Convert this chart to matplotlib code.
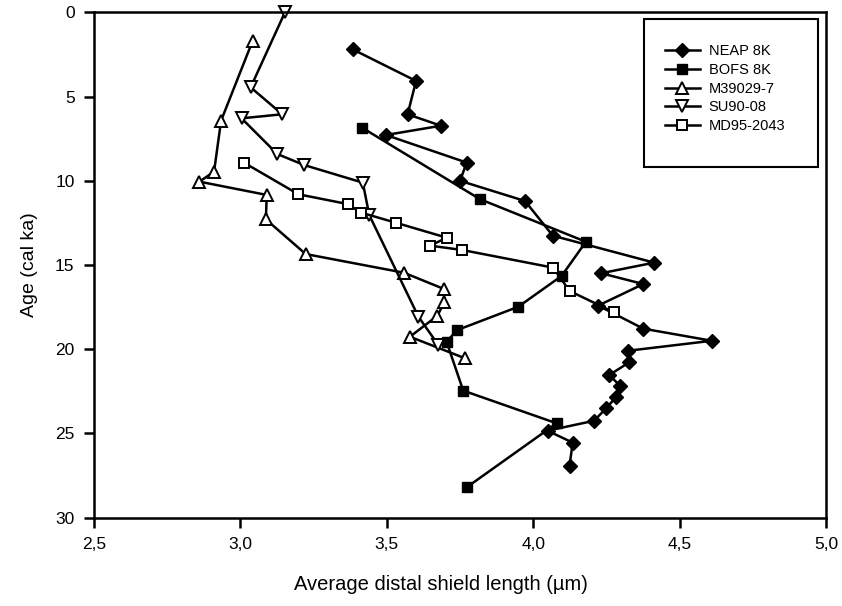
import matplotlib
matplotlib.use("Agg")
import matplotlib.pyplot as plt
from matplotlib.ticker import FuncFormatter, MultipleLocator
from matplotlib.patches import Rectangle

plt.rcParams['font.family'] = ['Liberation Sans', 'DejaVu Sans']

# ---- data (x = average distal shield length, y = age in cal ka) ----
neap_x = [3.383, 3.600, 3.571, 3.685, 3.497, 3.773, 3.750, 3.972, 4.067, 4.413,
          4.232, 4.376, 4.222, 4.376, 4.610, 4.325, 4.328, 4.260, 4.297, 4.282,
          4.249, 4.208, 4.049, 4.135, 4.124]
neap_y = [2.19, 4.07, 6.05, 6.73, 7.28, 8.92, 10.00, 11.20, 13.26, 14.86,
          15.49, 16.13, 17.41, 18.78, 19.50, 20.09, 20.78, 21.53, 22.18, 22.86,
          23.51, 24.25, 24.84, 25.55, 26.92]

bofs_x = [3.416, 3.818, 4.180, 4.097, 3.949, 3.741, 3.704, 3.761, 4.080, 3.773]
bofs_y = [6.85, 11.09, 13.62, 15.65, 17.48, 18.86, 19.55, 22.46, 24.40, 28.20]

m39_x = [3.042, 2.934, 2.910, 2.860, 3.090, 3.087, 3.223, 3.559, 3.696, 3.696,
         3.673, 3.579, 3.767]
m39_y = [1.68, 6.43, 9.46, 10.05, 10.84, 12.29, 14.35, 15.46, 16.43, 17.22,
         18.01, 19.26, 20.54]

su_x = [3.152, 3.035, 3.143, 3.004, 3.126, 3.217, 3.418, 3.440, 3.608, 3.676]
su_y = [0.00, 4.45, 6.05, 6.29, 8.41, 9.06, 10.11, 12.03, 18.07, 19.75]

md_x = [3.012, 3.198, 3.366, 3.412, 3.531, 3.705, 3.648, 3.758, 4.069, 4.124, 4.276]
md_y = [8.92, 10.80, 11.38, 11.89, 12.49, 13.38, 13.85, 14.11, 15.16, 16.54, 17.81]

labels = ["NEAP 8K", "BOFS 8K", "M39029-7", "SU90-08", "MD95-2043"]

fig = plt.figure(figsize=(8.42, 6.06), dpi=100)
ax = fig.add_axes([94/842, 1-517.6/606, 732/842, 505.2/606])

lw = 1.8
common = dict(color='black', linewidth=lw, clip_on=False, markeredgecolor='black')
ax.plot(neap_x, neap_y, marker='D', markersize=7.5, markerfacecolor='black',
        markeredgewidth=1.0, label=labels[0], **common)
ax.plot(bofs_x, bofs_y, marker='s', markersize=7, markerfacecolor='black',
        markeredgewidth=1.0, label=labels[1], **common)
ax.plot(m39_x, m39_y, marker='^', markersize=8.5, markerfacecolor='white',
        markeredgewidth=1.4, label=labels[2], **common)
ax.plot(su_x, su_y, marker='v', markersize=8.5, markerfacecolor='white',
        markeredgewidth=1.4, label=labels[3], **common)
ax.plot(md_x, md_y, marker='s', markersize=7.5, markerfacecolor='white',
        markeredgewidth=1.4, label=labels[4], **common)

ax.set_xlim(2.5, 5.0)
ax.set_ylim(30, 0)
ax.xaxis.set_major_locator(MultipleLocator(0.5))
ax.yaxis.set_major_locator(MultipleLocator(5))
ax.xaxis.set_major_formatter(FuncFormatter(lambda v, p: f"{v:.1f}".replace('.', ',')))
ax.yaxis.set_major_formatter(FuncFormatter(lambda v, p: f"{int(round(v))}"))

for s in ax.spines.values():
    s.set_linewidth(1.8)
ax.tick_params(axis='both', direction='out', length=7, width=1.8,
               labelsize=12.5, pad=7)

ax.set_xlabel("Average distal shield length (µm)", fontsize=14.5, va='center')
ax.xaxis.set_label_coords(0.474, -0.133)
ax.set_ylabel("Age (cal ka)", fontsize=14, va='center')
ax.yaxis.set_label_coords(-(94 - 29) / 732, 0.5)

# legend box
ax.add_patch(Rectangle((0.7514, 0.694), 0.2377, 0.293, transform=ax.transAxes,
                       facecolor='white', edgecolor='black', linewidth=1.5,
                       zorder=5))
leg = ax.legend(loc='upper left', bbox_to_anchor=(0.780, 0.9367),
                frameon=False, fontsize=10.5, handlelength=2.4,
                handletextpad=0.6, labelspacing=0.32, borderpad=0,
                borderaxespad=0)
leg.set_zorder(6)

fig.savefig("out.png", dpi=100)
